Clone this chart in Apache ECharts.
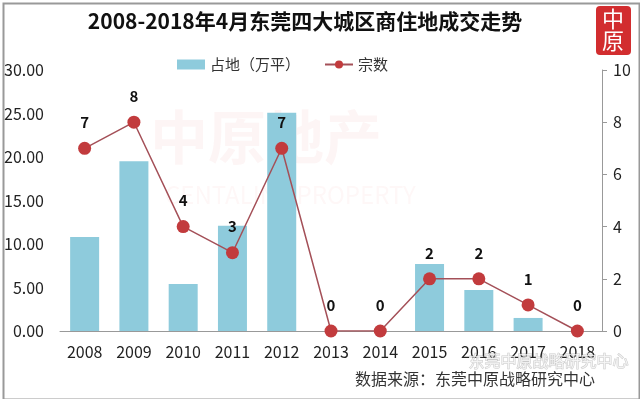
<!DOCTYPE html>
<html>
<head>
    <meta charset="utf-8">
    <title>东莞四大城区商住地成交走势</title>
    <script src="https://cdn.jsdelivr.net/npm/echarts@6/dist/echarts.min.js"></script>
    <style>
        html, body, #main {
            width: 100%;
            height: 100%;
            margin: 0;
            background: #fff;
        }
    </style>
</head>
<body>
    <div id="main"></div>
    <script type="text/javascript">
        // 数据
        var years = ['2008', '2009', '2010', '2011', '2012', '2013', '2014', '2015', '2016', '2017', '2018'];
        var area = [10.8, 19.5, 5.4, 12.1, 25.1, 0, 0, 7.7, 4.7, 1.5, 0];
        var deals = [7, 8, 4, 3, 7, 0, 0, 2, 2, 1, 0];

        var font = '"Noto Sans CJK SC", "Open Sans", sans-serif';
        var myChart = echarts.init(document.getElementById('main'));

        var option = {
            backgroundColor: '#fff',
            textStyle: { fontFamily: font },
            title: {
                text: '2008-2018年4月东莞四大城区商住地成交走势',
                left: 300,
                textAlign: 'center',
                top: 6,
                textStyle: { fontSize: 21, fontWeight: 'bold', color: '#111', fontFamily: font }
            },
            legend: {
                top: 52,
                left: 172,
                itemGap: 24,
                itemWidth: 28,
                itemHeight: 10,
                textStyle: { fontSize: 15, color: '#333', fontFamily: font },
                data: [
                    { name: '占地（万平）', icon: 'rect' },
                    { name: '宗数' }
                ]
            },
            grid: { left: 60, right: 38, top: 70, bottom: 68 },
            xAxis: {
                type: 'category',
                data: years,
                axisLine: { lineStyle: { color: '#999' } },
                axisTick: { show: false },
                axisLabel: { fontSize: 16, color: '#222', margin: 13 }
            },
            yAxis: [{
                type: 'value',
                min: 0, max: 30, interval: 5,
                splitLine: { show: false },
                axisLine: { show: false },
                axisTick: { show: false },
                axisLabel: {
                    fontSize: 16, color: '#222', margin: 16,
                    formatter: function (v) { return v.toFixed(2); }
                }
            }, {
                type: 'value',
                min: 0, max: 10, interval: 2,
                splitLine: { show: false },
                axisLine: { show: true, lineStyle: { color: '#999' } },
                axisTick: { show: true, inside: false, length: 5, lineStyle: { color: '#999' } },
                axisLabel: { fontSize: 16, color: '#222', margin: 11 }
            }],
            series: [{
                name: '占地（万平）',
                type: 'bar',
                data: area,
                barWidth: 29,
                itemStyle: { color: '#8ecbdc' }
            }, {
                name: '宗数',
                type: 'line',
                yAxisIndex: 1,
                data: deals,
                symbol: 'circle',
                symbolSize: 13,
                lineStyle: { color: '#a45058', width: 1.5 },
                itemStyle: { color: '#c23b3d' },
                label: {
                    show: true,
                    position: 'top',
                    distance: 12,
                    fontSize: 15,
                    fontWeight: 'bold',
                    color: '#111'
                },
                z: 3
            }],
            graphic: [
                // 外框
                {
                    type: 'rect', left: 1, top: 1, z: 100, silent: true,
                    shape: { width: 636, height: 396 },
                    style: { fill: 'none', stroke: '#999', lineWidth: 2 }
                },
                // 水印
                {
                    type: 'text', left: 150, top: 108, z: 0, silent: true,
                    style: { text: '中原地产', fontSize: 58, fontWeight: 'bold', fill: 'rgba(220,60,60,0.05)', fontFamily: font }
                },
                {
                    type: 'text', left: 165, top: 183, z: 0, silent: true,
                    style: { text: 'CENTALINE PROPERTY', fontSize: 24, fill: 'rgba(220,60,60,0.04)', fontFamily: font }
                },
                // logo
                {
                    type: 'rect', left: 596, top: 6, z: 10, silent: true,
                    shape: { width: 35, height: 49, r: 4 },
                    style: { fill: '#d22d2f' }
                },
                {
                    type: 'text', left: 602, top: 8, z: 11, silent: true,
                    style: { text: '中\n原', fontSize: 22, lineHeight: 22, fill: '#fff', fontFamily: font }
                },
                // 数据来源
                {
                    type: 'text', left: 355, top: 371, z: 10, silent: true,
                    style: { text: '数据来源：东莞中原战略研究中心', fontSize: 16, fill: '#333', fontFamily: font }
                },
                {
                    type: 'text', left: 468, top: 352, z: 11, silent: true,
                    style: {
                        text: '东莞中原战略研究中心', fontSize: 16, fill: 'rgba(255,255,255,0.7)',
                        stroke: 'rgba(120,120,120,0.4)', lineWidth: 1, fontFamily: font
                    }
                }
            ]
        };

        myChart.setOption(option);
        window.onresize = myChart.resize;
    </script>
</body>
</html>
